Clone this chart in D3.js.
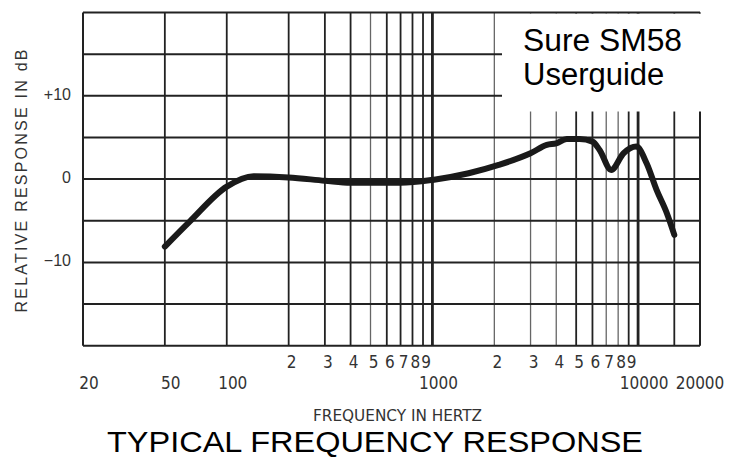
<!DOCTYPE html>
<html>
<head>
<meta charset="utf-8">
<script src="https://cdn.jsdelivr.net/npm/d3@7/dist/d3.min.js"></script>
<style>
  html, body { margin: 0; padding: 0; background: #fff; }
  svg { display: block; }
</style>
</head>
<body>
<svg id="chart" width="733" height="457"></svg>
<script>
// ---- data ----
const freqs = [50, 66, 100, 135, 200, 300, 400, 700, 1000, 1500, 2100, 3000, 3600, 4000, 4500, 5200, 6000, 6500, 7400, 8500, 9800, 11000, 12300, 13800, 15000];
const responseDb = [-8.1, -5.1, -0.9, 0.35, 0.2, -0.2, -0.45, -0.45, -0.1, 0.7, 1.7, 3.1, 4.1, 4.3, 4.8, 4.8, 4.5, 3.5, 1.1, 3.1, 3.9, 1.9, -1.3, -4.1, -6.7];

const gridFreqs = [50, 100, 200, 300, 400, 500, 600, 700, 800, 900, 1000, 2000, 3000, 4000, 5000, 6000, 7000, 8000, 9000, 10000, 15000];
const heavyFreqs = [1000, 10000];
const lightFreqs = [500, 2000, 3000, 4000, 7000, 8000];
const gridDb = [-15, -10, -5, 0, 5, 10, 15];

const digitTicks = [200, 300, 400, 500, 600, 700, 800, 900, 2000, 3000, 4000, 5000, 6000, 7000, 8000, 9000];
const digitLabels = ["2", "3", "4", "5", "6", "7", "8", "9", "2", "3", "4", "5", "6", "7", "8", "9"];
const mainTicks = [20, 50, 100, 1000, 10000, 20000];
const mainLabels = ["20", "50", "100", "1000", "10000", "20000"];
const yTicks = [10, 0, -10];
const yLabels = ["+10", "0", "\u221210"];

const xTitle = "FREQUENCY IN HERTZ";
const yTitle = "RELATIVE RESPONSE IN dB";
const chartTitle = "TYPICAL FREQUENCY RESPONSE";
const boxLines = ["Sure SM58", "Userguide"];

// ---- drawing ----
const svg = d3.select("#chart");
const x = d3.scaleLog().domain([20, 20000]).range([83, 700]);
const y = d3.scaleLinear().domain([-20, 20]).range([345.7, 12.5]);

const narrow = '"Liberation Sans Narrow", "Arial Narrow", "DejaVu Sans Condensed", sans-serif';
const regular = '"Liberation Sans", Arial, Helvetica, sans-serif';

svg.append("rect").attr("width", 733).attr("height", 457).attr("fill", "#fff");

const grid = svg.append("g");
// vertical grid lines
grid.selectAll("line.v").data(gridFreqs).join("line")
  .attr("class", "v")
  .attr("x1", d => x(d)).attr("x2", d => x(d))
  .attr("y1", y(20)).attr("y2", y(-20))
  .attr("stroke", d => lightFreqs.includes(d) ? "#666" : "#222")
  .attr("stroke-width", d => heavyFreqs.includes(d) ? 2.8 : (lightFreqs.includes(d) ? 1.3 : 1.8));

// horizontal grid lines
grid.selectAll("line.h").data(gridDb).join("line")
  .attr("class", "h")
  .attr("x1", x(20)).attr("x2", x(20000))
  .attr("y1", d => y(d)).attr("y2", d => y(d))
  .attr("stroke", "#222").attr("stroke-width", 2);

// frame: left, bottom, right
grid.append("line").attr("x1", x(20)).attr("x2", x(20)).attr("y1", y(20)).attr("y2", y(-20))
  .attr("stroke", "#222").attr("stroke-width", 2);
grid.append("line").attr("x1", x(20)).attr("x2", x(20000)).attr("y1", y(-20)).attr("y2", y(-20))
  .attr("stroke", "#222").attr("stroke-width", 2);
grid.append("line").attr("x1", x(20000)).attr("x2", x(20000)).attr("y1", y(20)).attr("y2", y(-20))
  .attr("stroke", "#222").attr("stroke-width", 2);

// annotation box (covers part of grid)
svg.append("rect").attr("x", 502).attr("y", y(20) + 1).attr("width", 231).attr("height", 98)
  .attr("fill", "#fff");

// top border
svg.append("line").attr("x1", x(20)).attr("x2", x(20000)).attr("y1", y(20)).attr("y2", y(20))
  .attr("stroke", "#222").attr("stroke-width", 1.8);

svg.append("text").attr("x", 523).attr("y", 51)
  .attr("font-family", regular).attr("font-size", 31).attr("fill", "#000")
  .attr("textLength", 159).attr("lengthAdjust", "spacingAndGlyphs")
  .text(boxLines[0]);
svg.append("text").attr("x", 523).attr("y", 85)
  .attr("font-family", regular).attr("font-size", 31).attr("fill", "#000")
  .text(boxLines[1]);

// response curve
const line = d3.line()
  .x((d, i) => x(freqs[i]))
  .y(d => y(d))
  .curve(d3.curveMonotoneX);
svg.append("path").datum(responseDb)
  .attr("d", line)
  .attr("fill", "none").attr("stroke", "#1a1a1a")
  .attr("stroke-width", 6).attr("stroke-linecap", "round").attr("stroke-linejoin", "round");

// x tick labels
svg.append("g").selectAll("text").data(digitTicks).join("text")
  .attr("x", d => x(d) + 3).attr("y", 368)
  .attr("text-anchor", "middle")
  .attr("font-family", narrow).attr("font-size", 17).attr("fill", "#333")
  .text((d, i) => digitLabels[i]);
svg.append("g").selectAll("text").data(mainTicks).join("text")
  .attr("x", (d, i) => x(d) + (i === mainTicks.length - 1 ? 0 : 6)).attr("y", 389)
  .attr("text-anchor", "middle")
  .attr("font-family", narrow).attr("font-size", 17).attr("fill", "#333")
  .text((d, i) => mainLabels[i]);

// y tick labels
svg.append("g").selectAll("text").data(yTicks).join("text")
  .attr("x", 71).attr("y", d => y(d) + 4)
  .attr("text-anchor", "end")
  .attr("font-family", regular).attr("font-size", 16).attr("fill", "#333")
  .text((d, i) => yLabels[i]);

// axis titles
svg.append("text")
  .attr("transform", "translate(26.5,181) rotate(-90)")
  .attr("text-anchor", "middle")
  .attr("font-family", regular).attr("font-size", 16).attr("fill", "#333")
  .attr("textLength", 263).attr("lengthAdjust", "spacing")
  .text(yTitle);

svg.append("text").attr("x", 397.5).attr("y", 421)
  .attr("text-anchor", "middle")
  .attr("font-family", narrow).attr("font-size", 16).attr("fill", "#333")
  .attr("textLength", 169).attr("lengthAdjust", "spacingAndGlyphs")
  .text(xTitle);

svg.append("text").attr("x", 375).attr("y", 452)
  .attr("text-anchor", "middle")
  .attr("font-family", regular).attr("font-size", 29).attr("fill", "#000")
  .attr("textLength", 536).attr("lengthAdjust", "spacingAndGlyphs")
  .text(chartTitle);
</script>
</body>
</html>
